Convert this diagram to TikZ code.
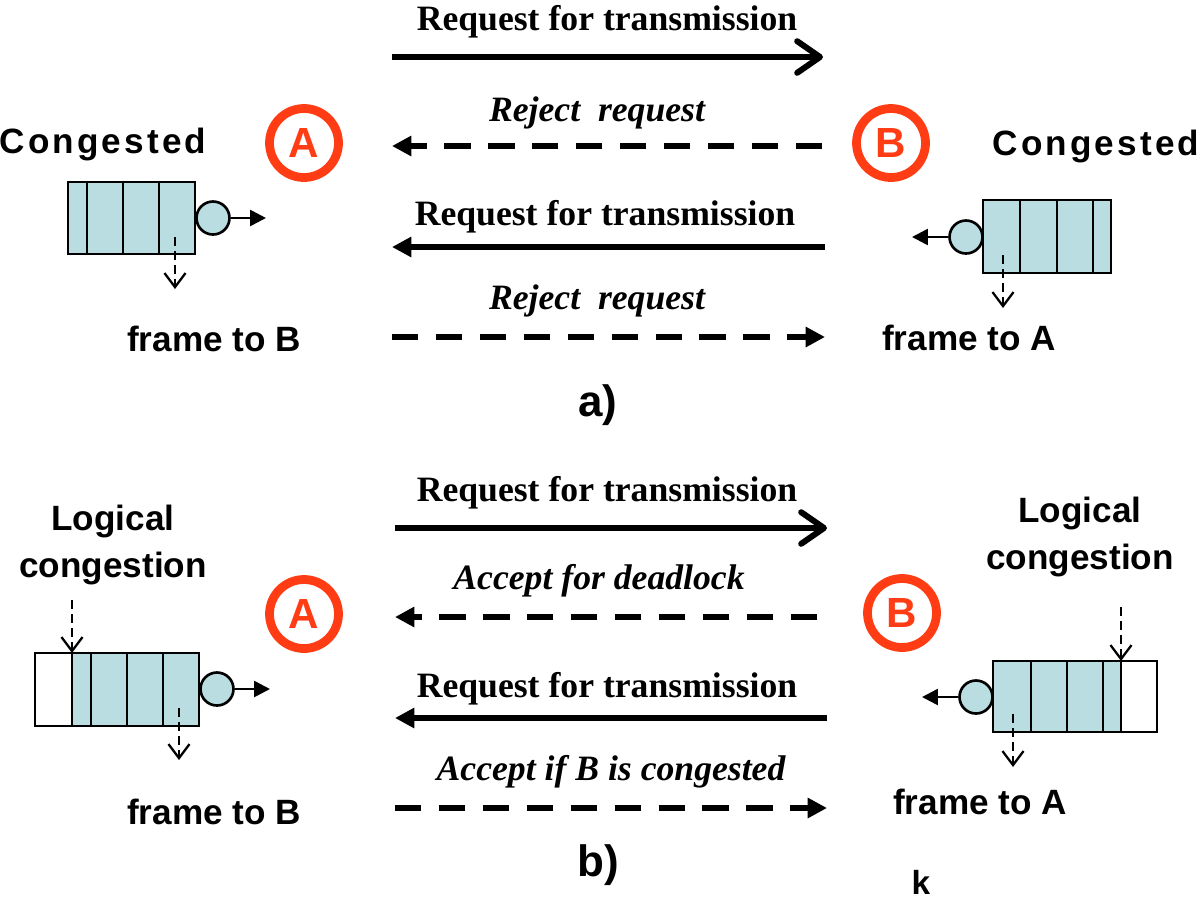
\documentclass[tikz,border=0pt]{standalone}
\usepackage{fontspec}
\setmainfont{Liberation Serif}
\setsansfont{Liberation Sans}
\usetikzlibrary{arrows.meta}
\definecolor{qblue}{RGB}{185,221,225}
\definecolor{stred}{RGB}{255,60,20}
\begin{document}
\begin{tikzpicture}[x=0.02cm,y=-0.02cm,
    msg/.style={font=\fontsize{20.3}{24}\selectfont\bfseries},
    imsg/.style={font=\fontsize{20.3}{24}\selectfont\bfseries\itshape},
    lbl/.style={font=\fontsize{20}{27}\selectfont\sffamily\bfseries,align=center},
    wide/.style={font=\fontsize{20}{24}\selectfont\sffamily\bfseries\addfontfeatures{LetterSpace=9}},
    station/.style={circle,draw=stred,line width=5pt,minimum size=1.38cm,inner sep=0pt,
        text=stred,font=\fontsize{24}{26}\selectfont\sffamily\bfseries},
    srv/.style={circle,draw,fill=qblue,line width=1.5pt,minimum size=0.66cm,inner sep=0pt},
    qcell/.style={draw,line width=1.5pt},
    req/.style={line width=3.4pt},
    rej/.style={line width=3.4pt,dash pattern=on 15pt off 10pt},
    bigbarb/.style={-{Straight Barb[length=13pt,width=18pt,round]}},
    bigtri/.style={-{Triangle[length=11pt,width=11pt]}},
    outarr/.style={line width=1.5pt,-{Triangle[length=9pt,width=9pt]}},
    droparr/.style={line width=1.3pt,dash pattern=on 5pt off 3pt,-{Straight Barb[length=8pt,width=12pt]}}]
    \useasboundingbox (0,0) rectangle (1200,907);

    %% ---------------- a) ----------------
    %% messages
    \node[msg] (ra1) at (607,22) {Request for transmission};
    \coordinate (a1s) at (392,57); \coordinate (a1e) at (823,57);
    \draw[req,bigbarb] (a1s) -- (a1e);
    \node[imsg] (ra2) at (597,113) {Reject\ \ request};
    \coordinate (a2s) at (822,146); \coordinate (a2e) at (392,146);
    \draw[rej,bigtri] (a2s) -- (a2e);
    \node[msg] (ra3) at (605,217) {Request for transmission};
    \coordinate (a3s) at (825,247); \coordinate (a3e) at (392,247);
    \draw[req,bigtri] (a3s) -- (a3e);
    \node[imsg] (ra4) at (597,301) {Reject\ \ request};
    \coordinate (a4s) at (392,337); \coordinate (a4e) at (825,337);
    \draw[rej,bigtri] (a4s) -- (a4e);
    %% stations
    \node[station] (sta) at (304,143) {A};
    \node[station] (stb) at (891,143) {B};
    \node[wide] (cga) at (103,144) {Congested};
    \node[wide] (cgb) at (1096,146) {Congested};
    %% queue of A
    \draw[qcell,fill=qblue] (68,182) rectangle (195,254);
    \foreach \x in {87,123,159} \draw[qcell] (\x,182) -- (\x,254);
    \node[srv] (sva) at (213,218) {};
    \coordinate (oa) at (266,218);
    \draw[outarr] (sva) -- (oa);
    \coordinate (da1) at (175,237); \coordinate (da2) at (175,289);
    \draw[droparr] (da1) -- (da2);
    \node[lbl] (fa) at (214,339) {frame to B};
    %% queue of B
    \draw[qcell,fill=qblue] (983,200) rectangle (1111,273);
    \foreach \x in {1020,1057,1093} \draw[qcell] (\x,200) -- (\x,273);
    \node[srv] (svb) at (966,237) {};
    \coordinate (ob) at (912,237);
    \draw[outarr] (svb) -- (ob);
    \coordinate (db1) at (1003,255); \coordinate (db2) at (1003,308);
    \draw[droparr] (db1) -- (db2);
    \node[lbl] (fb) at (969,338) {frame to A};
    \node[lbl,font=\fontsize{25}{27}\selectfont\sffamily\bfseries] (capa) at (598,405) {a)};

    %% ---------------- b) ----------------
    %% messages
    \node[msg] (rb1) at (607,493) {Request for transmission};
    \coordinate (b1s) at (395,528); \coordinate (b1e) at (827,528);
    \draw[req,bigbarb] (b1s) -- (b1e);
    \node[imsg] (rb2) at (599,581) {Accept for deadlock};
    \coordinate (b2s) at (817,617); \coordinate (b2e) at (395,617);
    \draw[rej,bigtri] (b2s) -- (b2e);
    \node[msg] (rb3) at (607,689) {Request for transmission};
    \coordinate (b3s) at (827,718); \coordinate (b3e) at (395,718);
    \draw[req,bigtri] (b3s) -- (b3e);
    \node[imsg] (rb4) at (611,772) {Accept if B is congested};
    \coordinate (b4s) at (395,808); \coordinate (b4e) at (827,808);
    \draw[rej,bigtri] (b4s) -- (b4e);
    %% stations
    \node[station] (stc) at (304,614) {A};
    \node[station] (std) at (902,613) {B};
    \node[lbl] (lga) at (113,545) {Logical\\congestion};
    \node[lbl] (lgb) at (1080,537) {Logical\\congestion};
    %% queue of A
    \draw[qcell] (35,653) rectangle (72,726);
    \draw[qcell,fill=qblue] (72,653) rectangle (199,726);
    \foreach \x in {91,127,163} \draw[qcell] (\x,653) -- (\x,726);
    \node[srv] (svc) at (217,689) {};
    \coordinate (oc) at (270,689);
    \draw[outarr] (svc) -- (oc);
    \coordinate (dc1) at (179,708); \coordinate (dc2) at (179,760);
    \draw[droparr] (dc1) -- (dc2);
    \coordinate (lc1) at (72,600); \coordinate (lc2) at (72,653);
    \draw[droparr] (lc1) -- (lc2);
    \node[lbl] (fc) at (214,812) {frame to B};
    %% queue of B
    \draw[qcell,fill=qblue] (993,661) rectangle (1121,732);
    \draw[qcell] (1121,661) rectangle (1157,732);
    \foreach \x in {1031,1067,1103} \draw[qcell] (\x,661) -- (\x,732);
    \node[srv] (svd) at (976,697) {};
    \coordinate (od) at (922,697);
    \draw[outarr] (svd) -- (od);
    \coordinate (dd1) at (1013,714); \coordinate (dd2) at (1013,767);
    \draw[droparr] (dd1) -- (dd2);
    \coordinate (ld1) at (1121,607); \coordinate (ld2) at (1121,661);
    \draw[droparr] (ld1) -- (ld2);
    \node[lbl] (fd) at (980,802) {frame to A};
    \node[lbl,font=\fontsize{25}{27}\selectfont\sffamily\bfseries] (capb) at (598,865) {b)};
    \node[lbl,font=\fontsize{19}{21}\selectfont\sffamily\bfseries] (kk) at (921,882) {k};
\end{tikzpicture}
\end{document}
